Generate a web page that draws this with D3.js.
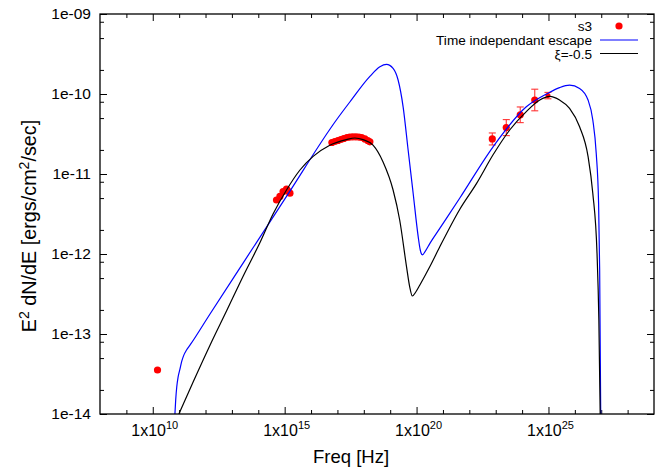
<!DOCTYPE html>
<html>
<head>
<meta charset="utf-8">
<script src="https://cdn.jsdelivr.net/npm/d3@7"></script>
<style>
body { margin: 0; background: #fff; }
svg text { font-family: "Liberation Sans", Arial, sans-serif; fill: #000; }
</style>
</head>
<body>
<svg id="canvas" width="668" height="470"></svg>
<script>
// values, all as log10(Hz) and log10(ergs/cm2/sec)
const s3LogNu   = [10.18, 14.69, 14.82, 14.94, 15.07, 15.12, 15.20,
                   16.79, 16.90, 17.02, 17.13, 17.24, 17.36, 17.47, 17.58, 17.70, 17.81, 17.92, 18.04, 18.15, 18.23,
                   22.87, 23.40, 23.93, 24.48, 24.98];
const s3LogFlux = [-13.45, -11.325, -11.28, -11.22, -11.19, -11.21, -11.24,
                   -10.606, -10.594, -10.581, -10.569, -10.556, -10.544, -10.538, -10.535, -10.535, -10.538, -10.544, -10.562, -10.581, -10.598,
                   -10.562, -10.42, -10.26, -10.075, -10.02];
// error bar half width in dex (0 = no bar)
const s3LogErr  = [0, 0, 0, 0, 0, 0, 0,
                   0, 0, 0, 0, 0, 0, 0, 0, 0, 0, 0, 0, 0, 0,
                   0.075, 0.10, 0.098, 0.135, 0.04];

const escLogNu   = [10.84, 10.87, 10.91, 10.96, 11.03, 11.10, 11.17, 11.28, 11.41, 12.17, 13.43, 15.07, 16.96, 17.47, 18.23, 18.61, 18.86, 19.11, 19.30,
                    19.49, 19.68, 19.87, 20.06, 20.14, 20.22, 20.34, 20.50, 20.88, 21.64, 22.90, 24.16, 24.98, 25.42,
                    25.80, 26.18, 26.50, 26.68, 26.81, 26.90, 26.94, 26.98];
const escLogFlux = [-14, -13.82, -13.66, -13.54, -13.44, -13.34, -13.27, -13.20, -13.14, -12.75, -12.11, -11.28, -10.325, -10.10, -9.78, -9.66, -9.63, -9.68, -9.825,
                    -10.16, -10.70, -11.24, -11.78, -11.95, -12.01, -11.96, -11.87, -11.68, -11.30, -10.66, -10.16, -9.99, -9.92,
                    -9.89, -9.93, -10.075, -10.325, -10.74, -11.37, -12.2, -14];

const xiLogNu   = [10.99, 11.53, 12.17, 12.80, 13.43, 14.06, 14.56, 15.07, 15.58, 16.08, 16.71, 17.34, 17.66, 17.97, 18.35,
                   18.73, 19.11, 19.36, 19.62, 19.74, 19.84, 19.97, 20.12, 20.50, 20.88, 21.64, 22.27, 22.90, 23.53,
                   24.16, 24.67, 25.05, 25.42, 25.80, 26.18, 26.50, 26.68, 26.84, 26.91, 26.96];
const xiLogFlux = [-14, -13.60, -13.14, -12.71, -12.275, -11.86, -11.50, -11.20, -10.95, -10.78, -10.64, -10.57, -10.55, -10.57, -10.64,
                   -10.85, -11.20, -11.575, -12.16, -12.41, -12.525, -12.475, -12.39, -12.16, -11.91, -11.44, -11.12, -10.76, -10.45,
                   -10.22, -10.075, -10.03, -10.075, -10.18, -10.41, -10.78, -11.24, -11.99, -12.825, -14];

const xMajorExps = [10, 15, 20, 25];
const yMajorExps = [-14, -13, -12, -11, -10, -9];
const yMinorMant = [2, 5, 8];

const legendNames = ["s3", "Time independant escape", "ξ=-0.5"];

const pLeft = 100, pRight = 654, pTop = 14, pBottom = 414;

const svg = d3.select("#canvas");

let x = d3.scaleLog().domain([1e8, 1e29]).range([pLeft, pRight]);
let y = d3.scaleLog().domain([1e-14, 1e-9]).range([pBottom, pTop]);

svg.append("defs").append("clipPath").attr("id", "plotclip")
    .append("rect").attr("x", pLeft).attr("y", pTop)
    .attr("width", pRight - pLeft).attr("height", pBottom - pTop);

// ticks (all inward, mirrored)
let xMinor = d3.range(9, 29).filter(e => !xMajorExps.includes(e)).map(e => Math.pow(10, e));
let xMajor = xMajorExps.map(e => Math.pow(10, e));
let yMajor = yMajorExps.map(e => Math.pow(10, e));
let yMinor = [];
for (let e = -14; e < -9; e++) {
    yMinorMant.forEach(m => yMinor.push(m * Math.pow(10, e)));
}

function tickAxis(axisFn, scale, vals, size, tr) {
    let g = svg.append("g").attr("transform", tr)
        .call(axisFn(scale).tickValues(vals).tickSize(-size).tickFormat(""));
    g.select(".domain").remove();
    g.selectAll("line").attr("stroke", "#000").attr("stroke-width", 1);
    return g;
}
tickAxis(d3.axisBottom, x, xMinor, 4, `translate(0,${pBottom})`);
tickAxis(d3.axisBottom, x, xMajor, 7, `translate(0,${pBottom})`);
tickAxis(d3.axisTop, x, xMinor, 4, `translate(0,${pTop})`);
tickAxis(d3.axisTop, x, xMajor, 7, `translate(0,${pTop})`);
tickAxis(d3.axisLeft, y, yMinor, 4, `translate(${pLeft},0)`);
tickAxis(d3.axisLeft, y, yMajor, 7, `translate(${pLeft},0)`);
tickAxis(d3.axisRight, y, yMinor, 4, `translate(${pRight},0)`);
tickAxis(d3.axisRight, y, yMajor, 7, `translate(${pRight},0)`);

// tick labels
svg.append("g").selectAll("text").data(yMajorExps).join("text")
    .attr("x", pLeft - 9).attr("y", d => y(Math.pow(10, d)) + 5)
    .attr("text-anchor", "end").attr("font-size", 15.5)
    .text(d => "1e-" + String(-d).padStart(2, "0"));

let xl = svg.append("g").selectAll("text").data(xMajorExps).join("text")
    .attr("x", d => x(Math.pow(10, d)) + 2).attr("y", pBottom + 22)
    .attr("text-anchor", "middle").attr("font-size", 16);
xl.append("tspan").text("1x10");
xl.append("tspan").attr("font-size", 11).attr("dy", -7).text(d => d);

// axis titles
svg.append("text").attr("x", 351).attr("y", 463).attr("text-anchor", "middle")
    .attr("font-size", 18.5).text("Freq [Hz]");

let yt = svg.append("text").attr("transform", "translate(36,226) rotate(-90)")
    .attr("text-anchor", "middle").attr("font-size", 19.8);
yt.append("tspan").text("E");
yt.append("tspan").attr("font-size", 14).attr("dy", -7.5).text("2");
yt.append("tspan").attr("dy", 7.5).text(" dN/dE [ergs/cm");
yt.append("tspan").attr("font-size", 14).attr("dy", -7.5).text("2");
yt.append("tspan").attr("dy", 7.5).text("/sec]");

// data points
let pts = s3LogNu.map((v, i) => ({ nu: Math.pow(10, v), f: Math.pow(10, s3LogFlux[i]), e: s3LogErr[i], lf: s3LogFlux[i] }));
let plot = svg.append("g").attr("clip-path", "url(#plotclip)");

let eb = plot.append("g").selectAll("g").data(pts.filter(d => d.e > 0)).join("g")
    .attr("stroke", "#f33").attr("stroke-width", 1.1);
eb.append("line")
    .attr("x1", d => x(d.nu)).attr("x2", d => x(d.nu))
    .attr("y1", d => y(Math.pow(10, d.lf - d.e))).attr("y2", d => y(Math.pow(10, d.lf + d.e)));
eb.append("line")
    .attr("x1", d => x(d.nu) - 3.5).attr("x2", d => x(d.nu) + 3.5)
    .attr("y1", d => y(Math.pow(10, d.lf - d.e))).attr("y2", d => y(Math.pow(10, d.lf - d.e)));
eb.append("line")
    .attr("x1", d => x(d.nu) - 3.5).attr("x2", d => x(d.nu) + 3.5)
    .attr("y1", d => y(Math.pow(10, d.lf + d.e))).attr("y2", d => y(Math.pow(10, d.lf + d.e)));

plot.append("g").selectAll("circle").data(pts).join("circle")
    .attr("cx", d => x(d.nu)).attr("cy", d => y(d.f))
    .attr("r", (d, i) => i == pts.length - 1 ? 2.5 : 3.6)
    .attr("fill", "#f00");

// model curves
let line = d3.line()
    .x(d => x(Math.pow(10, d[0])))
    .y(d => y(Math.pow(10, d[1])))
    .curve(d3.curveMonotoneX);

plot.append("path").datum(escLogNu.map((v, i) => [v, escLogFlux[i]]))
    .attr("d", line).attr("fill", "none").attr("stroke", "#0000ff").attr("stroke-width", 1.2);
plot.append("path").datum(xiLogNu.map((v, i) => [v, xiLogFlux[i]]))
    .attr("d", line).attr("fill", "none").attr("stroke", "#000").attr("stroke-width", 1.2);

// frame
svg.append("rect").attr("x", pLeft).attr("y", pTop)
    .attr("width", pRight - pLeft).attr("height", pBottom - pTop)
    .attr("fill", "none").attr("stroke", "#000").attr("stroke-width", 1.3);

// legend
let lg = svg.append("g");
let rows = [26, 40, 53.5];
lg.selectAll("text").data(legendNames).join("text")
    .attr("x", 592).attr("y", (d, i) => rows[i] + 5)
    .attr("text-anchor", "end").attr("font-size", 13.6).text(d => d);
lg.append("circle").attr("cx", 619).attr("cy", rows[0]).attr("r", 3.6).attr("fill", "#f00");
lg.append("line").attr("x1", 600).attr("x2", 638).attr("y1", rows[1]).attr("y2", rows[1])
    .attr("stroke", "#0000ff").attr("stroke-width", 1.2);
lg.append("line").attr("x1", 600).attr("x2", 638).attr("y1", rows[2]).attr("y2", rows[2])
    .attr("stroke", "#000").attr("stroke-width", 1.2);
</script>
</body>
</html>
